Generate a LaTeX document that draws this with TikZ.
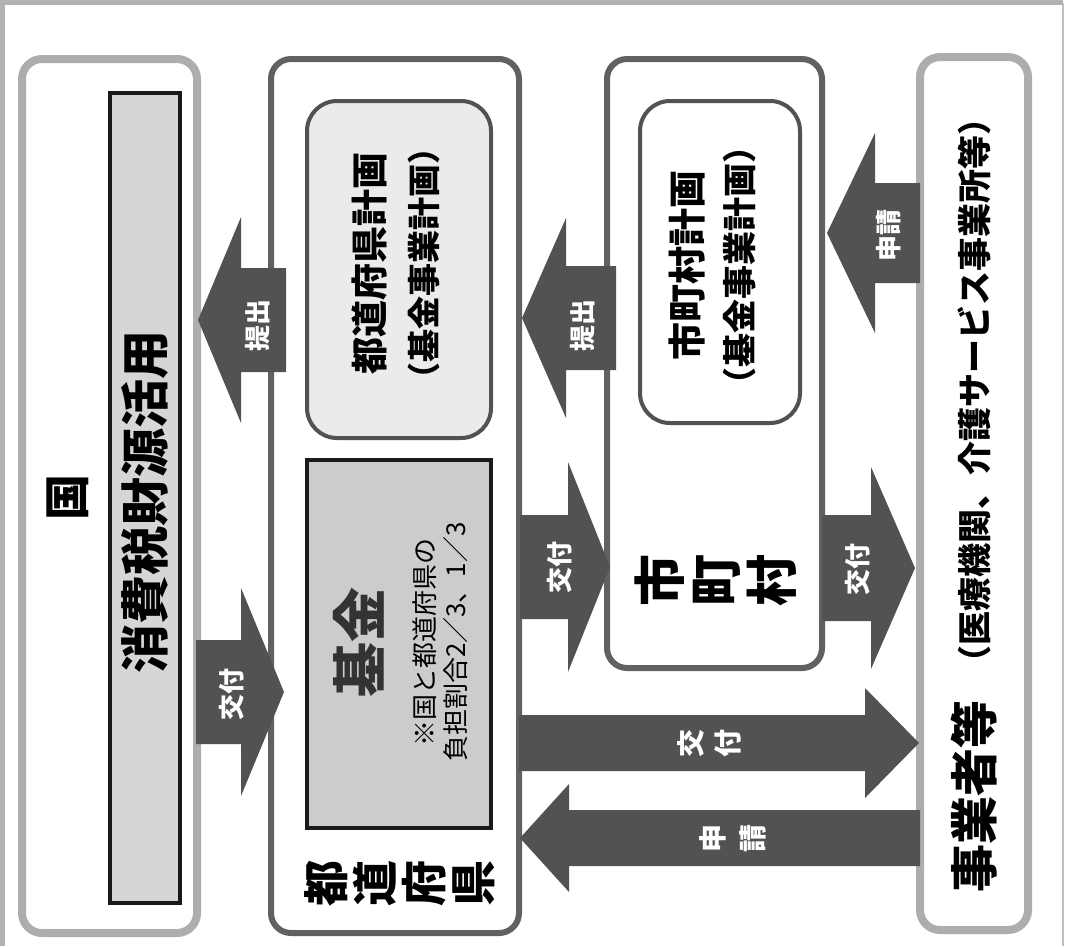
\documentclass[tikz,border=0pt]{standalone}
\usepackage{fontspec}
\setmainfont{Noto Sans CJK JP}
\tikzset{
  lightframe/.style={draw=black!32, line width=8pt, rounded corners=20pt, fill=white, inner sep=0pt},
  darkframe/.style={draw=black!62, line width=6pt, rounded corners=20pt, fill=white, inner sep=0pt},
  planbox/.style={draw=black!68, line width=4pt, rounded corners=30pt, inner sep=0pt},
  fundbox/.style={draw=black!90, line width=4pt, fill=black!20, inner sep=0pt},
  arrowbody/.style={fill=black!68},
  arrowtext/.style={text=white, rotate=90, inner sep=0pt, font=\bfseries\fontsize{26}{36}\selectfont},
  sidetext/.style={rotate=90, inner sep=0pt, align=center},
}
% block arrow: tail x, head base x, tip x, centre y, half shaft, half head
\newcommand{\blockarrow}[6]{%
  \fill[arrowbody] (#1,#4-#5) -- (#2,#4-#5) -- (#2,#4-#6) -- (#3,#4)
    -- (#2,#4+#6) -- (#2,#4+#5) -- (#1,#4+#5) -- cycle;}
\begin{document}
\begin{tikzpicture}[x=1pt,y=-1pt]
  \useasboundingbox (0,0) rectangle (1067,946);
  \fill[white] (0,0) rectangle (1067,946);
  \draw[black!30, line width=5pt] (2.5,946) -- (2.5,2.5) -- (1063,2.5);
  \draw[black!25, line width=2pt] (1063,2.5) -- (1063,946);

  % boxes
  \node[lightframe, minimum width=175pt, minimum height=874pt] (kuni) at (109.5,496) {};
  \node[fundbox, fill=black!16, minimum width=70pt, minimum height=810pt] (zeigen) at (145,498) {};
  \node[darkframe, minimum width=248pt, minimum height=874pt] (todofuken) at (395,496) {};
  \node[planbox, fill=black!8, minimum width=184pt, minimum height=337pt] (kenplan) at (399,269.5) {};
  \node[fundbox, minimum width=184pt, minimum height=368pt] (kikin) at (399,644) {};
  \node[darkframe, minimum width=215pt, minimum height=609pt] (shichoson) at (714.5,363.5) {};
  \node[planbox, fill=white, minimum width=160pt, minimum height=322pt] (shiplan) at (720,262) {};
  \node[lightframe, minimum width=108pt, minimum height=873pt] (jigyosha) at (974,493.5) {};

  % texts
  \node[sidetext, font=\bfseries\fontsize{46}{46}\selectfont] (kunit) at (68,497) {国};
  \node[sidetext, font=\bfseries\fontsize{49}{49}\selectfont] (zeigent) at (145,502) {消費税財源活用};
  \node[sidetext, font=\bfseries\fontsize{37}{37}\selectfont] (kenplant) at (370,263) {都道府県計画};
  \node[sidetext, font=\bfseries\fontsize{33}{33}\selectfont] (kenplanb) at (424,263) {（基金事業計画）};
  \node[sidetext, font=\bfseries\fontsize{55}{55}\selectfont, text=black!80] (kikint) at (359,642) {基金};
  \node[sidetext, font=\fontsize{26}{31}\selectfont] (kikinnote) at (440,642) {※国と都道府県の\\負担割合2／3、1／3};
  \node[sidetext, font=\bfseries\fontsize{46}{49}\selectfont] (todofukent) at (400,883) {都\\道\\府\\県};
  \node[sidetext, font=\bfseries\fontsize{38}{38}\selectfont] (shiplant) at (687,265) {市町村計画};
  \node[sidetext, font=\bfseries\fontsize{34}{34}\selectfont] (shiplanb) at (740,265) {（基金事業計画）};
  \node[sidetext, font=\bfseries\fontsize{52}{56}\selectfont] (shichosont) at (716,580) {市\\町\\村};
  \node[sidetext, font=\bfseries\fontsize{48}{48}\selectfont] (jigyoshat) at (974,796) {事業者等};
  \node[sidetext, font=\bfseries\fontsize{34}{34}\selectfont] (jigyoshab) at (974,390) {（医療機関、介護サービス事業所等）};

  % arrows
  \blockarrow{196}{241}{284}{692}{52}{104}
  \blockarrow{286}{241}{198}{320}{52}{103}
  \blockarrow{616}{566}{522}{318}{52}{100}
  \blockarrow{920}{875}{827}{233}{50}{100}
  \blockarrow{520}{568}{610}{567}{52}{105}
  \blockarrow{822}{871}{915}{568}{53}{101}
  \blockarrow{519}{865}{919}{743}{28}{55}
  \blockarrow{920}{569}{520}{838}{28}{54}

  \node[arrowtext] (kofua) at (232,694) {交付};
  \node[arrowtext] (teishutsua) at (258,325) {提出};
  \node[arrowtext] (teishutsub) at (583,325) {提出};
  \node[arrowtext] (shinseia) at (889,235) {申請};
  \node[arrowtext] (kofub) at (560,567) {交付};
  \node[arrowtext] (kofuc) at (858,569) {交付};
  \node[arrowtext, align=center, font=\bfseries\fontsize{28}{37}\selectfont] (kofud) at (709,743) {交\\付};
  \node[arrowtext, align=center, font=\bfseries\fontsize{28}{40}\selectfont] (shinseib) at (733,838) {申\\請};
\end{tikzpicture}
\end{document}
